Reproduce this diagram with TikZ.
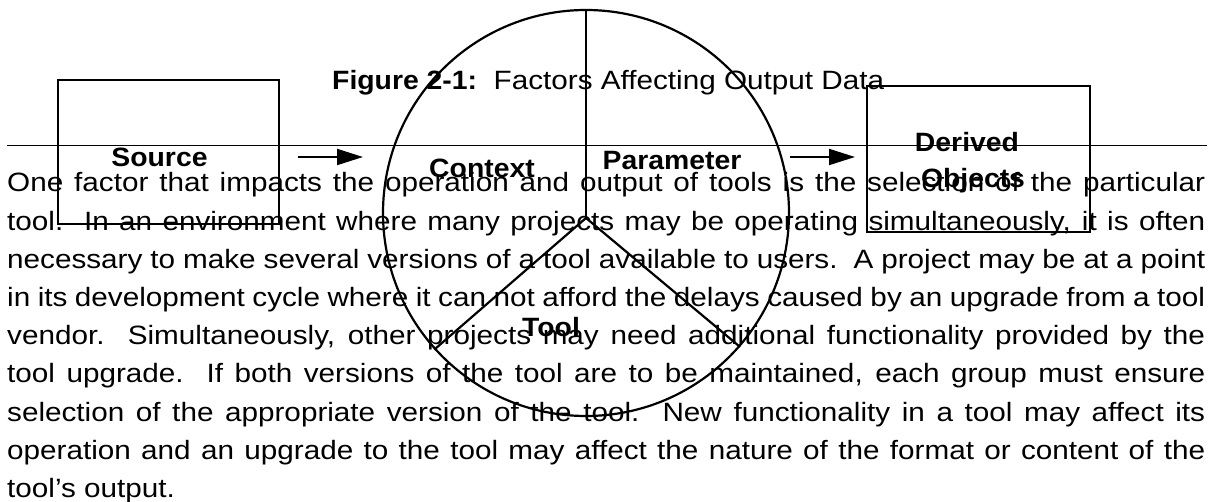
\documentclass[tikz,border=0pt]{standalone}
\usepackage{fontspec}
\setmainfont[FakeStretch=1.12, BoldFeatures={FakeStretch=1.07}]{Liberation Sans}
\usetikzlibrary{arrows.meta}
\newcommand{\jline}[1]{\hbox to 1198pt{\spaceskip=0.278em plus 2em minus 0.2em\relax #1}}
\newcommand{\fline}[1]{\hbox{#1}}
\tikzset{
  lbl/.style={anchor=base, inner sep=0pt, font=\fontsize{26.5}{30}\selectfont\bfseries},
  body/.style={anchor=base west, inner sep=0pt, font=\fontsize{26.5}{30}\selectfont},
  boxline/.style={draw=black, line width=2.7pt},
  divider/.style={draw=black, line width=2.2pt},
  arr/.style={draw=black, line width=2pt, -{Triangle[length=26pt,width=16pt]}},
}
\begin{document}
\begin{tikzpicture}[x=1pt,y=-1pt]
\useasboundingbox (0,0) rectangle (1219,502);
% caption and rule
\node[body] (cap) at (332,90) {\textbf{Figure 2-1:}\ \ Factors Affecting Output Data};
\coordinate (rl) at (7,146);
\coordinate (rr) at (1207,146);
\draw[line width=1pt] (rl) -- (rr);
% body text
\node[body] (l1) at (7,192) {\jline{One factor that impacts the operation and output of tools is the selection of the particular}};
\node[body] (l2) at (7,230.2) {\jline{tool.\ \ In an environment where many projects may be operating simultaneously, it is often}};
\node[body] (l3) at (7,268.4) {\jline{necessary to make several versions of a tool available to users.\ \ A project may be at a point}};
\node[body] (l4) at (7,306.6) {\jline{in its development cycle where it can not afford the delays caused by an upgrade from a tool}};
\node[body] (l5) at (7,344.8) {\jline{vendor.\ \ Simultaneously, other projects may need additional functionality provided by the}};
\node[body] (l6) at (7,383) {\jline{tool upgrade.\ \ If both versions of the tool are to be maintained, each group must ensure}};
\node[body] (l7) at (7,421.2) {\jline{selection of the appropriate version of the tool.\ \ New functionality in a tool may affect its}};
\node[body] (l8) at (7,459.4) {\jline{operation and an upgrade to the tool may affect the nature of the format or content of the}};
\node[body] (l9) at (7,497.6) {\fline{tool’s output.}};
% boxes
\draw[boxline] (58,80) rectangle (279,224);
\draw[boxline] (867,86) rectangle (1090,232);
\node[lbl] (src) at (159.5,167) {Source};
\node[lbl] (der) at (967,152) {Derived};
\node[lbl] (obj) at (973,188) {Objects};
% arrows
\coordinate (a1s) at (298,157);
\coordinate (a1e) at (363,157);
\coordinate (a2s) at (790,157);
\coordinate (a2e) at (855,157);
\draw[arr] (a1s) -- (a1e);
\draw[arr] (a2s) -- (a2e);
% circle
\node[circle, draw=black, line width=2.2pt, minimum size=406pt, inner sep=0pt] (circ) at (586,213) {};
\coordinate (hub) at (586,218);
\draw[divider] (hub) -- (circ.north);
\draw[divider] (hub) -- (circ.222);
\draw[divider] (hub) -- (circ.319);
\node[lbl] (ctx) at (482,178) {Context};
\node[lbl] (par) at (672,170) {Parameter};
\node[lbl] (tool) at (551,337) {Tool};
\end{tikzpicture}
\end{document}
